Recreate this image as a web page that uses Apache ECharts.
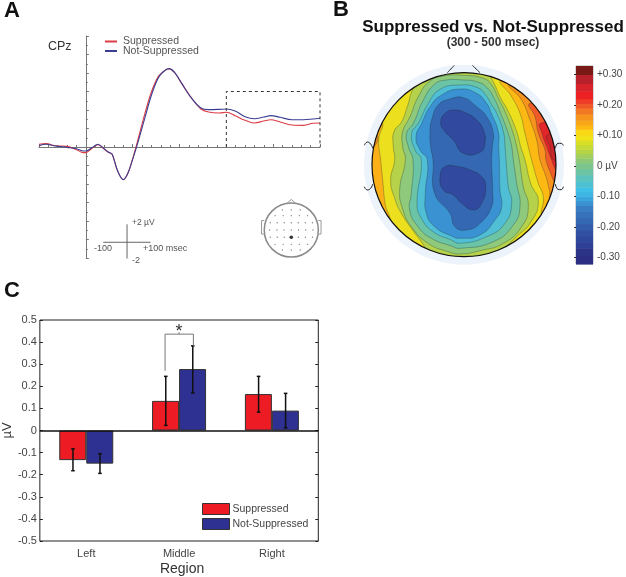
<!DOCTYPE html>
<html>
<head>
<meta charset="utf-8">
<title>Suppressed vs. Not-Suppressed</title>
<style>
  html, body { margin: 0; padding: 0; background: #fff; }
  #chart { width: 626px; height: 577px; }
</style>
<script src="https://cdn.jsdelivr.net/npm/echarts@6/dist/echarts.min.js"></script>
</head>
<body>
<div id="chart"></div>
<script>
// ---- panel A: CPz waveforms (msec, uV) ----
const erpTimes = [-100,-85,-65,-40,-20,-8,0,12,26,38,48,56,68,80,90,100,110,125,140,155,170,178,190,205,225,245,262,285,300,320,340,360,380,395,415,440,465,485,500];
const erpSuppressed = [0.29,0.36,0.14,0.07,-0.29,-0.58,-0.61,-0.18,0.25,-0.18,-0.58,-0.79,-2.6,-3.53,-2.81,-1.26,0.54,3.42,5.95,7.64,8.32,8.43,8.0,6.85,5.33,4.14,3.78,3.68,3.75,3.35,2.88,2.59,2.81,2.95,2.70,2.38,2.34,2.56,2.59];
const erpNotSuppressed = [0.14,0.29,0.11,-0.04,-0.18,-0.4,-0.43,-0.11,0.29,-0.14,-0.54,-0.76,-2.6,-3.53,-2.81,-1.33,0.29,2.95,5.59,7.5,8.32,8.47,8.04,6.85,5.33,4.25,4.04,4.07,4.11,3.86,3.28,3.06,3.24,3.39,3.21,2.95,2.95,3.03,3.10];
const windowBox = [[300,0],[300,6],[500,6],[500,0]];
const scaleBarTime = [[37,-10.3],[138,-10.3]];
const scaleBarVolt = [[88,-8.36],[88,-12.4]];

// ---- panel A inset: electrode montage ----
const montageDots = [
  [-.33,.74],[0,.74],[.33,.74],
  [-.6,.53],[-.3,.53],[0,.53],[.3,.53],[.6,.53],
  [-.78,.27],[-.52,.27],[-.26,.27],[0,.27],[.26,.27],[.52,.27],[.78,.27],
  [-.8,0],[-.53,0],[-.27,0],[0,0],[.27,0],[.53,0],[.8,0],
  [-.78,-.27],[-.52,-.27],[-.26,-.27],[.26,-.27],[.52,-.27],[.78,-.27],
  [-.6,-.53],[-.3,-.53],[0,-.53],[.3,-.53],[.6,-.53],
  [-.33,-.74],[0,-.74],[.33,-.74]
];
const montageActive = [[0,-.27]];
const montageNose = [[-.17,.98],[0,1.13],[.17,.98]];
const montageEarL = [[-1,.35],[-1.1,.35],[-1.1,-.15],[-1,-.15]];
const montageEarR = [[1,.35],[1.1,.35],[1.1,-.15],[1,-.15]];

// ---- panel B: iso-lines (head centre 402,494, radius 276) ----
const headCentre = [402, 494];
const headRadius = 276;
const leftOrange = [[155,365],[146,420],[152,480],[158,540],[165,610],[175,665],[100,665],[100,365]];
const leftDeep = [[140,402],[132,440],[100,445],[100,400]];
const rightGold = [[515,240],[545,290],[570,340],[585,400],[605,480],[625,550],[640,590],[640,650],[720,650],[720,240]];
const rightOrange = [[540,252],[575,300],[600,360],[620,420],[630,480],[648,530],[658,570],[665,600],[720,600],[720,252]];
const rightScarlet = [[600,310],[615,350],[625,400],[645,450],[648,480],[662,520],[672,545],[680,560],[720,560],[720,310]];
const rightRed = [[632,370],[636,400],[650,440],[665,480],[675,505],[692,525],[720,525],[720,370]];
const rightDeep = [[652,405],[660,440],[672,480],[720,480],[720,405]];
const isoLime = [[250,265],[232,320],[215,365],[192,395],[190,440],[194,480],[182,540],[194,595],[214,640],[244,685],[284,740],[320,800],[480,800],[530,740],[560,710],[600,670],[625,605],[602,550],[585,480],[572,440],[560,395],[535,335],[510,290],[492,250],[475,222],[440,185],[350,185],[280,225]];
const isoGreen = [[226,480],[218,440],[218,395],[240,350],[265,290],[300,243],[340,228],[400,226],[460,235],[485,255],[505,295],[525,335],[548,395],[560,440],[568,480],[580,560],[595,620],[575,680],[520,730],[450,752],[390,762],[354,755],[294,730],[244,680],[219,630],[209,570]];
const isoTeal = [[249,480],[235,440],[230,400],[250,370],[280,300],[315,252],[350,240],[400,240],[440,245],[470,262],[495,300],[510,335],[533,395],[545,440],[550,480],[560,550],[570,620],[550,675],[490,725],[390,745],[364,738],[304,715],[264,680],[239,630],[244,580]];
const isoCyan = [[274,480],[255,450],[245,400],[265,370],[295,310],[330,268],[390,255],[440,262],[465,282],[485,315],[498,335],[520,395],[525,440],[528,480],[535,560],[545,610],[525,670],[470,710],[390,730],[364,720],[309,695],[274,655],[261,610]];
const isoBlue = [[292,480],[270,450],[258,410],[275,370],[300,320],[335,285],[390,267],[440,280],[470,310],[482,335],[505,395],[506,440],[508,480],[510,570],[515,620],[495,660],[450,705],[390,715],[364,708],[314,680],[289,640],[286,580]];
const isoMid = [[309,480],[302,440],[300,395],[305,360],[325,315],[360,297],[400,293],[440,320],[470,350],[490,400],[487,440],[485,480],[488,580],[485,620],[450,670],[410,690],[375,680],[360,640],[314,580]];
const coreUpper = [[332,370],[345,340],[375,330],[410,340],[440,360],[460,390],[465,430],[450,457],[400,460],[370,420],[345,395]];
const coreLower = [[330,530],[345,500],[385,500],[420,510],[455,530],[467,560],[455,610],[430,630],[395,610],[370,585],[340,570]];
const mapBands = [leftOrange,leftDeep,rightGold,rightOrange,rightScarlet,rightRed,rightDeep,isoLime,isoGreen,isoTeal,isoCyan,isoBlue,isoMid,coreUpper,coreLower];
const mapBandColors = ['#fbb017','#f08a24','#fdb913','#f7941d','#f15a29','#e3262a','#c9252b','#b5d24a','#8fc97b','#6cc4a6','#50bfd6','#3b92d3','#3568b2','#31499f','#31499f'];
const noseLeft = [[352,218],[373,196]];
const noseRight = [[450,218],[427,196]];
const earUpperL = [[128,445],[122,432],[112,426],[103,436]];
const earLowerL = [[128,552],[122,565],[112,570],[103,560]];
const earUpperR = [[676,445],[684,430],[694,430],[700,437]];
const earLowerR = [[676,552],[684,568],[694,569],[700,560]];

// ---- panel B: colour key ----
const keyEdges = [-0.322,-0.295,-0.27,-0.25,-0.23,-0.21,-0.19,-0.17,-0.15,-0.13,-0.115,-0.10,-0.085,-0.07,-0.05,-0.03,-0.01,0.01,0.025,0.04,0.055,0.07,0.085,0.10,0.12,0.135,0.15,0.17,0.19,0.205,0.22,0.245,0.27,0.30,0.328];
const keyColors = ['#2b2e82','#2c3488','#2e3f94','#30489c','#3250a3','#335cab','#3468b1','#3773ba','#3a7ec2','#3a92d0','#3aa6dd','#3db6e4','#3fc0e6','#4dc1d2','#5bc2bd','#6cc4a4','#7cc68e','#8dc878','#a1ce5e','#b5d444','#c7d935','#d9de26','#f0e31a','#f9d814','#fdb913','#f9a718','#f7941d','#f37823','#f05a28','#ee3c26','#ed2024','#d9232a','#b8212a','#7a1a16'];
const keyTicks = [0.3,0.2,0.1,0,-0.1,-0.2,-0.3];

// ---- panel C: mean amplitude per region ----
const regions = ['Left','Middle','Right'];
const barSuppressed = [-0.134,0.134,0.165];
const barNotSuppressed = [-0.15,0.278,0.09];
const errSuppressedLow = [-0.182,0.023,0.083];
const errSuppressedHigh = [-0.083,0.245,0.245];
const errNotSuppressedLow = [-0.194,0.17,0.012];
const errNotSuppressedHigh = [-0.105,0.383,0.168];
const bracketLevels = { left: 0.27, top: 0.436, right: 0.383 };

const RED = '#ed1c24', BLUE = '#2e3192';
const FONT = '"Liberation Sans", Arial, sans-serif';
const INK = '#444';

function pairs(xs, ys) { return xs.map((x, i) => [x, ys[i]]); }

function note(text, x, y, size, opts) {
  return { type: 'text', silent: true, style: Object.assign({
    text, x, y, fill: INK, textVerticalAlign: 'middle',
    font: (opts && opts.bold ? 'bold ' : '') + size + 'px ' + FONT
  }, opts && opts.style) };
}

function hidden(idx, min, max, extra) {
  return Object.assign({ type: 'value', gridIndex: idx, min, max, show: false }, extra);
}

// error whisker, offset sideways to sit on its bar
function renderWhisker(shift) {
  return function (params, api) {
    const hi = api.coord([api.value(0), api.value(2)]);
    const lo = api.coord([api.value(0), api.value(1)]);
    const x = hi[0] + shift;
    const st = { stroke: '#111', lineWidth: 1.5 };
    return { type: 'group', children: [
      { type: 'line', shape: { x1: x, y1: hi[1], x2: x, y2: lo[1] }, style: st },
      { type: 'line', shape: { x1: x - 1.8, y1: hi[1], x2: x + 1.8, y2: hi[1] }, style: st },
      { type: 'line', shape: { x1: x - 1.8, y1: lo[1], x2: x + 1.8, y2: lo[1] }, style: st }
    ] };
  };
}

const chart = echarts.init(document.getElementById('chart'), null, { renderer: 'canvas' });

chart.setOption({
  animation: false,
  backgroundColor: '#fff',
  textStyle: { fontFamily: FONT },
  grid: [
    { left: 39, top: 36, width: 281, height: 222 },
    { left: 360, top: 60, width: 210, height: 210 },
    { left: 576, top: 66, width: 17, height: 198, show: true, borderColor: '#a9b2bb', borderWidth: 1 },
    { left: 37.7, top: 320, width: 280.6, height: 221.7, show: true, borderColor: '#222', borderWidth: 1 },
    { left: 258.3, top: 197, width: 66, height: 66 }
  ],
  xAxis: [
    { type: 'value', gridIndex: 0, min: -100, max: 500, interval: 100,
      axisLine: { onZero: true, lineStyle: { color: '#777' } },
      axisTick: { inside: true, length: 3, lineStyle: { color: '#777' } },
      minorTick: { show: true, splitNumber: 5, length: 2, lineStyle: { color: '#777' } },
      axisLabel: { show: false }, splitLine: { show: false } },
    hidden(1, 90, 720),
    hidden(2, 0, 1),
    { type: 'category', gridIndex: 3, data: regions, position: 'bottom',
      axisLine: { onZero: false, show: false },
      axisTick: { inside: true, alignWithLabel: true, length: 3, lineStyle: { color: '#222' } },
      axisLabel: { fontSize: 11, color: INK, margin: 7 },
      name: 'Region', nameLocation: 'middle', nameGap: 21,
      nameTextStyle: { fontSize: 14, color: '#333', padding: [0, 0, 0, 6] } },
    hidden(4, -1.22, 1.22),
    { type: 'category', gridIndex: 3, data: regions, position: 'top',
      axisLine: { onZero: false, show: false },
      axisTick: { inside: true, alignWithLabel: true, length: 3, lineStyle: { color: '#222' } },
      axisLabel: { show: false } }
  ],
  yAxis: [
    { type: 'value', gridIndex: 0, min: -12, max: 12, interval: 2,
      axisLine: { show: true, onZero: true, lineStyle: { color: '#777' } },
      axisTick: { show: true, inside: true, length: 3, lineStyle: { color: '#777' } },
      minorTick: { show: true, splitNumber: 2, length: 2, lineStyle: { color: '#777' } },
      axisLabel: { show: false }, splitLine: { show: false } },
    hidden(1, 180, 810, { inverse: true }),
    { type: 'value', gridIndex: 2, min: -0.322, max: 0.328, position: 'right',
      axisLine: { show: false },
      axisTick: { show: true, inside: true, length: 2, customValues: keyTicks, lineStyle: { color: '#333' } },
      axisLabel: { show: true, margin: 4, fontSize: 10, color: INK, customValues: keyTicks,
        formatter: v => v === 0 ? '0 \u00b5V' : (v > 0 ? '+' : '') + v.toFixed(2) },
      splitLine: { show: false } },
    { type: 'value', gridIndex: 3, min: -0.5, max: 0.5, interval: 0.1,
      axisLine: { show: false },
      axisTick: { show: true, inside: true, length: 3, lineStyle: { color: '#222' } },
      axisLabel: { fontSize: 11, color: INK, margin: 3, formatter: v => Math.abs(v) < 1e-9 ? '0' : v.toFixed(1) },
      splitLine: { show: false },
      name: '\u00b5V', nameLocation: 'middle', nameGap: 23, nameRotate: 90,
      nameTextStyle: { fontSize: 13, color: '#333' } },
    hidden(4, -1.22, 1.22),
    { type: 'value', gridIndex: 3, min: -0.5, max: 0.5, interval: 0.1, position: 'right',
      axisLine: { show: false },
      axisTick: { show: true, inside: true, length: 3, lineStyle: { color: '#222' } },
      axisLabel: { show: false }, splitLine: { show: false } }
  ],
  legend: [
    { left: 104, top: 36, padding: 0, orient: 'vertical', itemWidth: 12, itemHeight: 6, itemGap: -1.5, selectedMode: false,
      textStyle: { fontSize: 10.5, color: '#555', padding: [0, 0, 0, 1] },
      data: [
        { name: 'Suppressed', itemStyle: { opacity: 0 } },
        { name: 'Not-Suppressed', itemStyle: { opacity: 0 } }
      ] },
    { left: 202, top: 503, padding: 0, orient: 'vertical', itemWidth: 27, itemHeight: 11, itemGap: 3, selectedMode: false,
      textStyle: { fontSize: 10.5, color: INK, padding: [0, 0, 0, -2] },
      data: [
        { name: 'Suppressed', icon: 'rect', itemStyle: { color: RED, borderColor: '#333', borderWidth: 1 } },
        { name: 'Not-Suppressed', icon: 'rect', itemStyle: { color: BLUE, borderColor: '#333', borderWidth: 1 } }
      ] }
  ],
  series: [
    // panel A
    { type: 'line', name: 'Suppressed', xAxisIndex: 0, yAxisIndex: 0, data: pairs(erpTimes, erpSuppressed),
      smooth: 0.35, symbol: 'none', silent: true, lineStyle: { color: '#dd3c44', width: 1.1 }, itemStyle: { color: '#dd3c44' }, z: 3 },
    { type: 'line', name: 'Not-Suppressed', xAxisIndex: 0, yAxisIndex: 0, data: pairs(erpTimes, erpNotSuppressed),
      smooth: 0.35, symbol: 'none', silent: true, lineStyle: { color: '#3b3f92', width: 1.1 }, itemStyle: { color: '#3b3f92' }, z: 3 },
    { type: 'line', xAxisIndex: 0, yAxisIndex: 0, data: windowBox, showSymbol: false, silent: true,
      lineStyle: { color: '#333', width: 1, type: [3, 3] } },
    { type: 'line', xAxisIndex: 0, yAxisIndex: 0, data: scaleBarTime, showSymbol: false, silent: true, lineStyle: { color: '#666', width: 1 } },
    { type: 'line', xAxisIndex: 0, yAxisIndex: 0, data: scaleBarVolt, showSymbol: false, silent: true, lineStyle: { color: '#666', width: 1 } },

    // panel A inset
    { type: 'custom', xAxisIndex: 4, yAxisIndex: 4, coordinateSystem: 'cartesian2d', data: [[0, 0]], silent: true,
      renderItem: (params, api) => {
        const c = api.coord([0, 0]);
        return { type: 'circle', shape: { cx: c[0], cy: c[1], r: api.size([1, 0])[0] },
          style: { fill: '#fff', stroke: '#8a8a8a', lineWidth: 1.5 } };
      } },
    ...[montageNose, montageEarL, montageEarR].map(d => ({
      type: 'line', xAxisIndex: 4, yAxisIndex: 4, data: d, showSymbol: false, silent: true,
      lineStyle: { color: '#999', width: 1 } })),
    { type: 'scatter', xAxisIndex: 4, yAxisIndex: 4, data: montageDots, symbolSize: 1.4, silent: true, itemStyle: { color: '#666' }, z: 4 },
    { type: 'scatter', xAxisIndex: 4, yAxisIndex: 4, data: montageActive, symbolSize: 3.6, silent: true, itemStyle: { color: '#000' }, z: 5 },

    // panel B: halo + base colour of the scalp
    { type: 'custom', xAxisIndex: 1, yAxisIndex: 1, data: [headCentre], silent: true, clip: false,
      renderItem: (params, api) => {
        const c = api.coord(headCentre);
        const r = api.size([headRadius, 0])[0];
        return { type: 'group', children: [
          { type: 'circle', shape: { cx: c[0], cy: c[1], r: r + 8 }, style: { fill: '#edf3fa' } },
          { type: 'circle', shape: { cx: c[0], cy: c[1], r: r }, style: { fill: '#ecdf1e' } }
        ] };
      } },
    // panel B: contour bands, back to front, cut to the scalp circle
    { type: 'custom', xAxisIndex: 1, yAxisIndex: 1, data: mapBands.map((b, i) => [i]), silent: true, clip: false,
      renderItem: (params, api) => {
        const i = api.value(0);
        const c = api.coord(headCentre);
        const r = api.size([headRadius, 0])[0];
        return { type: 'polygon',
          clipPath: { type: 'circle', shape: { cx: c[0], cy: c[1], r: r } },
          shape: { points: mapBands[i].map(p => api.coord(p)), smooth: 0.5 },
          style: { fill: mapBandColors[i], stroke: 'rgba(30,45,45,0.6)', lineWidth: 0.5 } };
      } },
    { type: 'custom', xAxisIndex: 1, yAxisIndex: 1, data: [headCentre], silent: true, clip: false,
      renderItem: (params, api) => {
        const c = api.coord(headCentre);
        return { type: 'circle', shape: { cx: c[0], cy: c[1], r: api.size([headRadius, 0])[0] },
          style: { fill: 'none', stroke: '#111', lineWidth: 1.2 } };
      } },
    ...[noseLeft, noseRight, earUpperL, earLowerL, earUpperR, earLowerR].map(d => ({
      type: 'line', xAxisIndex: 1, yAxisIndex: 1, data: d, showSymbol: false, silent: true, smooth: 0.5,
      lineStyle: { color: '#222', width: 1 } })),

    // panel B: colour key
    { type: 'custom', xAxisIndex: 2, yAxisIndex: 2, data: keyColors.map((c, i) => [i]), silent: true,
      renderItem: (params, api) => {
        const i = api.value(0);
        const a = api.coord([0, keyEdges[i + 1]]);
        const b = api.coord([1, keyEdges[i]]);
        return { type: 'rect', shape: { x: a[0], y: a[1], width: b[0] - a[0], height: b[1] - a[1] + 0.5 },
          style: { fill: keyColors[i] } };
      } },

    // panel C
    { type: 'bar', name: 'Suppressed', xAxisIndex: 3, yAxisIndex: 3, data: barSuppressed, barWidth: 27, barGap: 0, silent: true,
      itemStyle: { color: RED, borderColor: '#333', borderWidth: 1 },
      markLine: { silent: true, symbol: 'none', label: { show: false }, animation: false,
        lineStyle: { color: '#111', width: 1.5, type: 'solid' }, data: [{ yAxis: 0 }] }, z: 2 },
    { type: 'bar', name: 'Not-Suppressed', xAxisIndex: 3, yAxisIndex: 3, data: barNotSuppressed, barWidth: 27, barGap: 0, silent: true,
      itemStyle: { color: BLUE, borderColor: '#333', borderWidth: 1 }, z: 2 },
    { type: 'custom', xAxisIndex: 3, yAxisIndex: 3, silent: true, z: 4,
      data: regions.map((r, i) => [i, errSuppressedLow[i], errSuppressedHigh[i]]), encode: { x: 0, y: [1, 2] }, renderItem: renderWhisker(-13.3) },
    { type: 'custom', xAxisIndex: 3, yAxisIndex: 3, silent: true, z: 4,
      data: regions.map((r, i) => [i, errNotSuppressedLow[i], errNotSuppressedHigh[i]]), encode: { x: 0, y: [1, 2] }, renderItem: renderWhisker(13.7) },
    // significance bracket over the Middle pair
    { type: 'custom', xAxisIndex: 3, yAxisIndex: 3, silent: true, z: 4, data: [[1, bracketLevels.top]], clip: false,
      renderItem: (params, api) => {
        const m = api.coord([api.value(0), bracketLevels.top]);
        const l = api.coord([api.value(0), bracketLevels.left]);
        const r = api.coord([api.value(0), bracketLevels.right]);
        const x1 = m[0] - 14, x2 = m[0] + 14.3;
        return { type: 'group', children: [
          { type: 'polyline', shape: { points: [[x1, l[1]], [x1, m[1]], [x2, m[1]], [x2, r[1]]] },
            style: { fill: 'none', stroke: '#777', lineWidth: 1 } },
          { type: 'line', shape: { x1: m[0], y1: m[1], x2: m[0], y2: m[1] - 2 }, style: { stroke: '#777', lineWidth: 1 } },
          { type: 'text', style: { text: '*', x: m[0], y: m[1] - 2.5, textAlign: 'center', textVerticalAlign: 'middle',
            font: '18px ' + FONT, fill: '#333' } }
        ] };
      } }
  ],
  graphic: [
    note('A', 4, 11, 22, { bold: true, style: { fill: '#111' } }),
    note('B', 333, 10, 22, { bold: true, style: { fill: '#111' } }),
    note('C', 4, 291, 22, { bold: true, style: { fill: '#111' } }),
    note('CPz', 48, 47, 12.5, { style: { fill: '#333' } }),
    note('+2 \u00b5V', 132, 223, 8.5, { style: { fill: '#555' } }),
    note('-100', 94, 249, 9, { style: { fill: '#555' } }),
    note('+100 msec', 143, 249, 9, { style: { fill: '#555' } }),
    note('-2', 132, 261, 9, { style: { fill: '#555' } }),
    note('Suppressed vs. Not-Suppressed', 493, 27, 17, { bold: true, style: { fill: '#111', textAlign: 'center' } }),
    note('(300 - 500 msec)', 493, 43, 12, { bold: true, style: { fill: '#333', textAlign: 'center' } })
  ]
});
</script>
</body>
</html>
